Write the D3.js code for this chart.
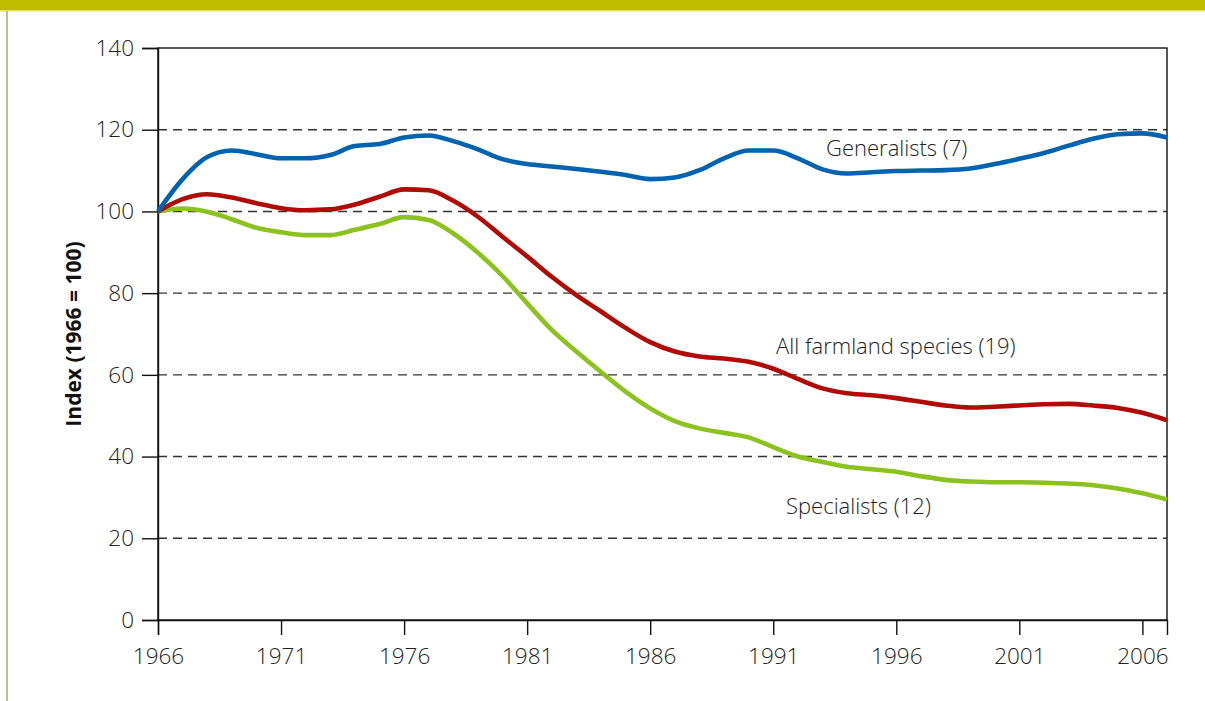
<!DOCTYPE html>
<html>
<head>
<meta charset="utf-8">
<script src="https://cdn.jsdelivr.net/npm/d3@7"></script>
<style>
  body { margin: 0; background: #fff; }
  svg { display: block; font-family: "Open Sans", "Noto Sans", sans-serif; }
</style>
</head>
<body>
<svg id="chart" width="1205" height="701"></svg>
<script>
// years 1966..2007
const years = d3.range(1966, 2008);

const generalists = [100, 107.9, 113.3, 114.9, 114, 113, 113, 113.8, 116, 116.5, 118.1, 118.6, 117.2,
  115.2, 112.8, 111.6, 111, 110.4, 109.7, 108.9, 107.9, 108.3, 110.1, 113, 114.9, 114.9, 113,
  110.3, 109.3, 109.6, 109.9, 110, 110.1, 110.5, 111.6, 112.9, 114.3, 116.1, 117.8, 118.9, 119.1, 118.1];

const allFarmland = [100, 103, 104.2, 103.4, 102, 100.8, 100.3, 100.5, 101.7, 103.6, 105.4, 105.2, 102.6,
  98.7, 93.8, 89, 84, 79.5, 75.5, 71.5, 68, 65.7, 64.5, 64, 63.2, 61.5, 59,
  56.7, 55.5, 55, 54.3, 53.4, 52.5, 52, 52.2, 52.5, 52.8, 52.9, 52.5, 51.9, 50.7, 48.9];

const specialists = [100, 100.7, 99.9, 98.1, 96, 94.9, 94.2, 94.2, 95.5, 96.9, 98.6, 97.9, 94.6,
  89.9, 84.2, 77.5, 71, 65.7, 60.7, 55.9, 51.8, 48.7, 46.9, 45.8, 44.7, 42.3, 40,
  38.7, 37.5, 36.9, 36.3, 35.2, 34.3, 33.9, 33.7, 33.7, 33.6, 33.4, 33, 32.2, 31, 29.5];

const seriesNames = ["Generalists (7)", "All farmland species (19)", "Specialists (12)"];
const seriesColors = ["#0063b0", "#b00c05", "#8cc21e"];
const yTicks = [0, 20, 40, 60, 80, 100, 120, 140];
const xTicks = [1966, 1971, 1976, 1981, 1986, 1991, 1996, 2001, 2006];

const svg = d3.select('#chart');

// header band and left rule
svg.append('rect').attr('x', 0).attr('y', 0).attr('width', 1205).attr('height', 10).attr('fill', '#c0bd00');
svg.append('rect').attr('x', 0).attr('y', 10).attr('width', 1205).attr('height', 1.5).attr('fill', '#e2de6a');
svg.append('rect').attr('x', 6).attr('y', 11).attr('width', 2).attr('height', 690).attr('fill', '#c8b98a');

const pl = 158, pr = 1167, pt = 48, pb = 620;

const x = d3.scaleLinear().domain([1966, 2007]).range([pl, pr]);
const y = d3.scaleLinear().domain([0, 140]).range([pb, pt]);

// dashed grid
svg.append('g')
  .selectAll('line')
  .data(yTicks.filter(d => d > 0 && d < 140))
  .join('line')
  .attr('x1', pl).attr('x2', pr)
  .attr('y1', d => y(d)).attr('y2', d => y(d))
  .attr('stroke', '#333').attr('stroke-width', 1.4)
  .attr('stroke-dasharray', '9,6');

// frame
svg.append('rect')
  .attr('x', pl).attr('y', pt)
  .attr('width', pr - pl).attr('height', pb - pt)
  .attr('fill', 'none').attr('stroke', '#111').attr('stroke-width', 1.4);

const yAxis = svg.append('g')
  .attr('transform', `translate(${pl},0)`)
  .call(d3.axisLeft(y).tickValues(yTicks).tickSize(16).tickPadding(8));

const xAxis = svg.append('g')
  .attr('transform', `translate(0,${pb})`)
  .call(d3.axisBottom(x).tickValues(xTicks).tickFormat(d3.format('d')).tickSize(15).tickPadding(13));

[yAxis, xAxis].forEach(a => {
  a.attr('font-size', null).attr('font-family', null);
  a.select('.domain').attr('stroke', '#111').attr('stroke-width', 1.4);
  a.selectAll('.tick line').attr('stroke', '#111').attr('stroke-width', 1.4);
  a.selectAll('.tick text').attr('fill', '#222')
    .attr('font-size', 22.5).attr('font-weight', 300);
});

svg.append('text')
  .attr('transform', `translate(81,${(pt + pb) / 2}) rotate(-90)`)
  .attr('text-anchor', 'middle')
  .attr('font-weight', 'bold')
  .attr('font-size', 21)
  .attr('fill', '#111')
  .text('Index (1966 = 100)');

const line = d3.line()
  .x((d, i) => x(years[i]))
  .y(d => y(d))
  .curve(d3.curveMonotoneX);

const allSeries = [generalists, allFarmland, specialists];

// draw specialists first so blue sits on top
[2, 1, 0].forEach(k => {
  svg.append('path')
    .datum(allSeries[k])
    .attr('d', line)
    .attr('fill', 'none')
    .attr('stroke', seriesColors[k])
    .attr('stroke-width', 4.6)
    .attr('stroke-linejoin', 'round');
});

// series labels
const labelPos = [[826, 156], [776, 354], [786, 514]];
seriesNames.forEach((name, k) => {
  svg.append('text')
    .attr('x', labelPos[k][0]).attr('y', labelPos[k][1])
    .attr('font-size', 22)
    .attr('font-weight', 300)
    .attr('fill', '#222')
    .text(name);
});
</script>
</body>
</html>
